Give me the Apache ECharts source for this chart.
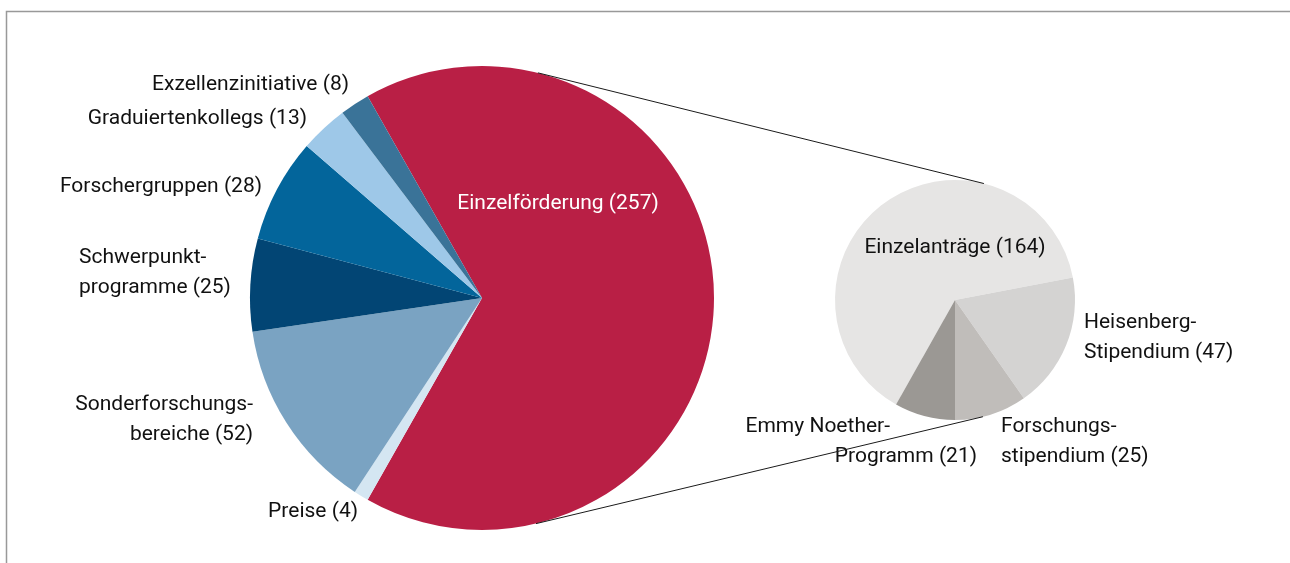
<!DOCTYPE html>
<html>
<head>
<meta charset="utf-8">
<style>html,body{margin:0;padding:0;background:#fff}#chart{width:1290px;height:563px}</style>
<script src="https://cdn.jsdelivr.net/npm/echarts@6/dist/echarts.min.js"></script>
</head>
<body>
<div id="chart"></div>
<script>
// Hauptkreis: Förderprogramme
var mainNames = ['Einzelförderung', 'Preise', 'Sonderforschungs-\nbereiche', 'Schwerpunkt-\nprogramme', 'Forschergruppen', 'Graduiertenkollegs', 'Exzellenzinitiative'];
var mainValues = [257, 4, 52, 25, 28, 13, 8];

// Aufschlüsselung der Einzelförderung
var subNames = ['Einzelanträge', 'Heisenberg-\nStipendium', 'Forschungs-\nstipendium', 'Emmy Noether-\nProgramm'];
var subValues = [164, 47, 25, 21];

var mainColors = ['#b91f45', '#d4e6f2', '#7aa3c2', '#024574', '#03659b', '#9ec8e8', '#3a7398'];
var subColors = ['#e6e5e4', '#d4d3d2', '#c0bdba', '#9b9894'];

// Layout
var mainCenter = [482, 298], mainR = 232;
var subCenter = [955, 300], subR = 120;
var mainLabelPos = [[558, 204, 'center'], [358, 512, 'right'], [253, 420, 'right'], [79, 273, 'left'],
                    [262, 187, 'right'], [307, 119, 'right'], [349, 85, 'right']];
var subLabelPos = [[955, 248, 'center'], [1084, 338, 'left'], [1001, 442, 'left'], [977, 442, 'right']];
var FONT = 'Roboto';
var FS = 21;

function sum(a) { return a.reduce(function (s, v) { return s + v; }, 0); }

// Rot zentriert nach rechts, Grenze Forschungs/Emmy senkrecht nach unten
var mainStart = mainValues[0] / sum(mainValues) * 180;
var subStart = -90 + sum(subValues.slice(0, 3)) / sum(subValues) * 360;

function toData(names, values, colors) {
  return names.map(function (n, i) {
    return { name: n, value: values[i], itemStyle: { color: colors[i] } };
  });
}

// Verbindungslinien: äußere Tangenten beider Kreise
function tangents() {
  var dx = subCenter[0] - mainCenter[0], dy = subCenter[1] - mainCenter[1];
  var d = Math.sqrt(dx * dx + dy * dy);
  var phi = Math.atan2(dy, dx), a = Math.acos((mainR - subR) / d);
  return [phi - a, phi + a].map(function (ang) {
    var nx = Math.cos(ang), ny = Math.sin(ang);
    return {
      type: 'line', z: 100,
      shape: { x1: mainCenter[0] + mainR * nx, y1: mainCenter[1] + mainR * ny,
               x2: subCenter[0] + subR * nx, y2: subCenter[1] + subR * ny },
      style: { stroke: '#1a1a1a', lineWidth: 1 }
    };
  });
}

var myChart = echarts.init(document.getElementById('chart'));

var option = {
  animation: false,
  textStyle: { fontFamily: FONT },
  graphic: [{
    type: 'polyline', z: 100,
    shape: { points: [[6.5, 563], [6.5, 11.5], [1290, 11.5]] },
    style: { stroke: '#999', lineWidth: 1.5, fill: null }
  }].concat(tangents()),
  series: [
    {
      name: 'Förderprogramme',
      type: 'pie',
      center: mainCenter,
      radius: mainR,
      startAngle: mainStart,
      clockwise: true,
      avoidLabelOverlap: false,
      label: {
        show: true,
        position: 'outside',
        fontFamily: FONT,
        fontSize: FS,
        lineHeight: 30,
        color: '#111',
        formatter: function (p) { return p.name + ' (' + p.value + ')'; }
      },
      labelLine: { show: false },
      labelLayout: function (p) {
        var pos = mainLabelPos[p.dataIndex];
        return { x: pos[0], y: pos[1], align: pos[2], verticalAlign: 'middle' };
      },
      data: toData(mainNames, mainValues, mainColors).map(function (d, i) {
        if (i === 0) d.label = { color: '#fff' };
        return d;
      })
    },
    {
      name: 'Einzelförderung',
      type: 'pie',
      center: subCenter,
      radius: subR,
      startAngle: subStart,
      clockwise: true,
      avoidLabelOverlap: false,
      label: {
        show: true,
        position: 'outside',
        fontFamily: FONT,
        fontSize: FS,
        lineHeight: 30,
        color: '#111',
        formatter: function (p) {
          var parts = p.name.split('\n');
          if (p.dataIndex === 3) {
            return '{a|' + parts[0] + '}\n{b|' + parts[1] + ' (' + p.value + ')}';
          }
          return p.name + ' (' + p.value + ')';
        },
        rich: {
          a: { fontFamily: FONT, fontSize: FS, lineHeight: 30, color: '#111', padding: [0, 87, 0, 0] },
          b: { fontFamily: FONT, fontSize: FS, lineHeight: 30, color: '#111' }
        }
      },
      labelLine: { show: false },
      labelLayout: function (p) {
        var pos = subLabelPos[p.dataIndex];
        return { x: pos[0], y: pos[1], align: pos[2], verticalAlign: 'middle' };
      },
      data: toData(subNames, subValues, subColors)
    }
  ]
};

myChart.setOption(option);
</script>
</body>
</html>
